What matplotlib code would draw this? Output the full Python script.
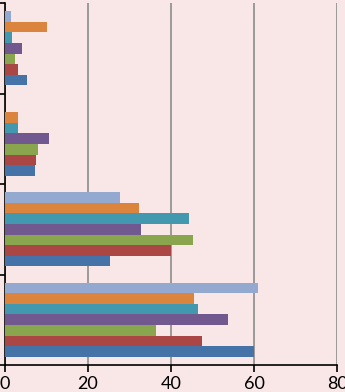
import matplotlib
matplotlib.use("Agg")
import matplotlib.pyplot as plt
import numpy as np

categories = ["Group 1", "Group 2", "Group 3", "Group 4"]  # bottom to top
series_names = ["S1", "S2", "S3", "S4", "S5", "S6", "S7"]
s1 = [60.0, 25.3, 7.3, 5.3]
s2 = [47.5, 39.9, 7.5, 3.2]
s3 = [36.3, 45.2, 7.9, 2.5]
s4 = [53.8, 32.7, 10.5, 4.0]
s5 = [46.4, 44.3, 3.2, 1.7]
s6 = [45.5, 32.4, 3.2, 10.0]
s7 = [61.0, 27.8, 0.0, 1.4]
series = [s1, s2, s3, s4, s5, s6, s7]
colors = ["#4572A7", "#AA4643", "#89A54E", "#71588F", "#4198AF", "#DB843D", "#93A9CF"]
xticks = [0, 20, 40, 60, 80]

bg = "#F9E6E6"
fig = plt.figure(figsize=(3.45, 3.92), dpi=100)
fig.patch.set_facecolor(bg)
ax = fig.add_axes([5/345, 27/392, 332/345, 362/392])
ax.set_facecolor(bg)

n = len(series)
h = 0.117
y = np.arange(len(categories))
for i, (vals, c) in enumerate(zip(series, colors)):
    offs = (i - (n - 1) / 2) * h
    ax.barh(y + offs, vals, height=h, color=c, zorder=3)

ax.set_xlim(0, 80)
ax.set_ylim(-0.5, len(categories) - 0.5)
ax.set_xticks(xticks)
ax.set_xticklabels([str(t) for t in xticks], fontsize=13, family=["Lato", "DejaVu Sans"])
ax.set_yticks(np.arange(len(categories) + 1) - 0.5)
ax.set_yticklabels([])
ax.grid(axis="x", color="#8C8C8C", linewidth=1.2, zorder=1)
for s in ["top", "right"]:
    ax.spines[s].set_visible(False)
ax.spines["left"].set_linewidth(1.2)
ax.spines["bottom"].set_linewidth(1.2)
ax.tick_params(axis="x", direction="out", length=5, width=1.2, pad=3)
ax.tick_params(axis="y", direction="out", length=5, width=1.2)
for lbl in ax.get_xticklabels():
    lbl.set_clip_on(False)

fig.savefig("out.png", dpi=100, facecolor=bg)
